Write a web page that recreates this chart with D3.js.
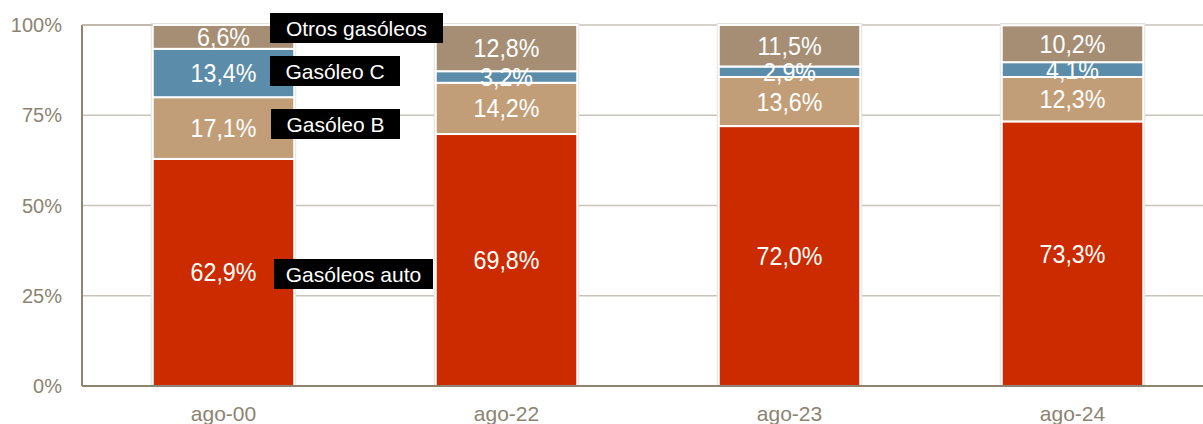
<!DOCTYPE html>
<html><head><meta charset="utf-8">
<script src="https://cdn.jsdelivr.net/npm/d3@7"></script>
<style>body{margin:0;background:#fff;}svg{display:block;font-family:"Liberation Sans",Arial,sans-serif;}</style>
</head><body><svg id="c" width="1203" height="424"></svg>
<script>
const categories = ["ago-00","ago-22","ago-23","ago-24"];
const seriesNames = ["Gasóleos auto","Gasóleo B","Gasóleo C","Otros gasóleos"];
const gasoleosAuto = [62.9, 69.8, 72.0, 73.3];
const gasoleoB = [17.1, 14.2, 13.6, 12.3];
const gasoleoC = [13.4, 3.2, 2.9, 4.1];
const otros = [6.6, 12.8, 11.5, 10.2];
const yTicks = [0, 25, 50, 75, 100];
const colors = ["#CC2B00", "#C29E78", "#5B8CA9", "#A68E74"];

const svg = d3.select("#c");
const pLeft = 82, pTop = 25, pBottom = 386, pRight = 1214;
const x = d3.scaleBand().domain(categories).range([pLeft, pRight]).paddingInner(0.5).paddingOuter(0.25);
const y = d3.scaleLinear().domain([0, 100]).range([pBottom, pTop]);

// gridlines
svg.append("g").selectAll("line").data(yTicks.filter(d => d > 0)).join("line")
  .attr("x1", pLeft).attr("x2", 1203).attr("y1", d => y(d)).attr("y2", d => y(d))
  .attr("stroke", "#C9C3BA").attr("stroke-width", 1.5);

const rows = categories.map((c, i) => ({cat: c, vals: [gasoleosAuto[i], gasoleoB[i], gasoleoC[i], otros[i]]}));
const stackData = rows.map(r => { let acc = 0; return r.vals.map((v, k) => { const s = {cat: r.cat, k, v, y0: acc, y1: acc + v}; acc += v; return s; }); });

// bar shadows
svg.append("g").selectAll("rect").data(rows).join("rect")
  .attr("x", d => x(d.cat) - 2).attr("width", x.bandwidth() + 4)
  .attr("y", y(100) - 2).attr("height", pBottom - y(100) + 2)
  .attr("fill", "#E4E1DC");

const g = svg.append("g");
stackData.flat().forEach(s => {
  g.append("rect").attr("x", x(s.cat)).attr("width", x.bandwidth())
    .attr("y", y(s.y1)).attr("height", y(s.y0) - y(s.y1))
    .attr("fill", colors[s.k]).attr("stroke", "#fff").attr("stroke-width", 2);
});
stackData.flat().forEach(s => {
  const cx = x(s.cat) + x.bandwidth() / 2, cy = (y(s.y0) + y(s.y1)) / 2;
  g.append("text").attr("transform", `translate(${cx},${cy}) scale(0.93,1)`)
    .attr("dy", "0.36em")
    .attr("text-anchor", "middle").attr("fill", "#fff").attr("font-size", 25)
    .text(d3.format(".1f")(s.v).replace(".", ",") + "%");
});

// axes
svg.append("line").attr("x1", pLeft).attr("x2", pLeft).attr("y1", y(100)).attr("y2", pBottom).attr("stroke", "#8E8470").attr("stroke-width", 2);
svg.append("line").attr("x1", pLeft).attr("x2", 1203).attr("y1", pBottom).attr("y2", pBottom).attr("stroke", "#8E8470").attr("stroke-width", 2);
svg.append("line").attr("x1", pLeft).attr("x2", x(categories[0])).attr("y1", y(100)).attr("y2", y(100)).attr("stroke", "#B8B0A2").attr("stroke-width", 1.5);

svg.append("g").selectAll("text").data(yTicks).join("text")
  .attr("x", 62).attr("y", d => y(d)).attr("dy", "0.36em").attr("text-anchor", "end")
  .attr("fill", "#8C8371").attr("font-size", 20).text(d => d + "%");
svg.append("g").selectAll("text").data(categories).join("text")
  .attr("x", d => x(d) + x.bandwidth() / 2).attr("y", 413).attr("dy", "0.36em").attr("text-anchor", "middle")
  .attr("fill", "#8C8371").attr("font-size", 21).text(d => d);

// legend labels (black boxes)
const legend = [
  {name: seriesNames[3], x: 270, y: 13, w: 173},
  {name: seriesNames[2], x: 270, y: 56, w: 130},
  {name: seriesNames[1], x: 271, y: 109, w: 129},
  {name: seriesNames[0], x: 274, y: 259, w: 159}
];
legend.forEach(l => {
  svg.append("rect").attr("x", l.x).attr("y", l.y).attr("width", l.w).attr("height", 30).attr("fill", "#000");
  svg.append("text").attr("x", l.x + l.w / 2).attr("y", l.y + 15).attr("dy", "0.36em")
    .attr("text-anchor", "middle").attr("fill", "#fff").attr("font-size", 21).text(l.name);
});
</script></body></html>
